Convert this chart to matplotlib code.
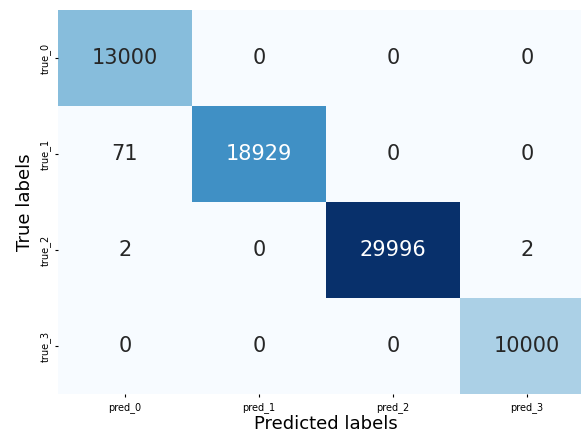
import numpy as np
import seaborn as sns
from matplotlib import pyplot as plt

true_labels = ['true_0', 'true_1', 'true_2', 'true_3']
pred_labels = ['pred_0', 'pred_1', 'pred_2', 'pred_3']
row_0 = [13000, 0, 0, 0]
row_1 = [71, 18929, 0, 0]
row_2 = [2, 0, 29996, 2]
row_3 = [0, 0, 0, 10000]

cm = np.array([row_0, row_1, row_2, row_3])

fig = plt.figure(figsize=(5.81, 4.34), dpi=100)
# the original is cropped on the right, the last column runs past the edge
ax = fig.add_axes([0.0998, 0.092, 0.9225, 0.885])
sns.heatmap(cm, annot=True, fmt='d', cmap='Blues', cbar=False, ax=ax,
            xticklabels=pred_labels, yticklabels=true_labels,
            annot_kws={'fontsize': 15})
ax.tick_params(axis='both', labelsize=7, length=2)
ax.set_xlabel('Predicted labels', fontsize=13, labelpad=2)
ax.set_ylabel('True labels', fontsize=13, labelpad=4)
fig.savefig('out.png', dpi=100)
